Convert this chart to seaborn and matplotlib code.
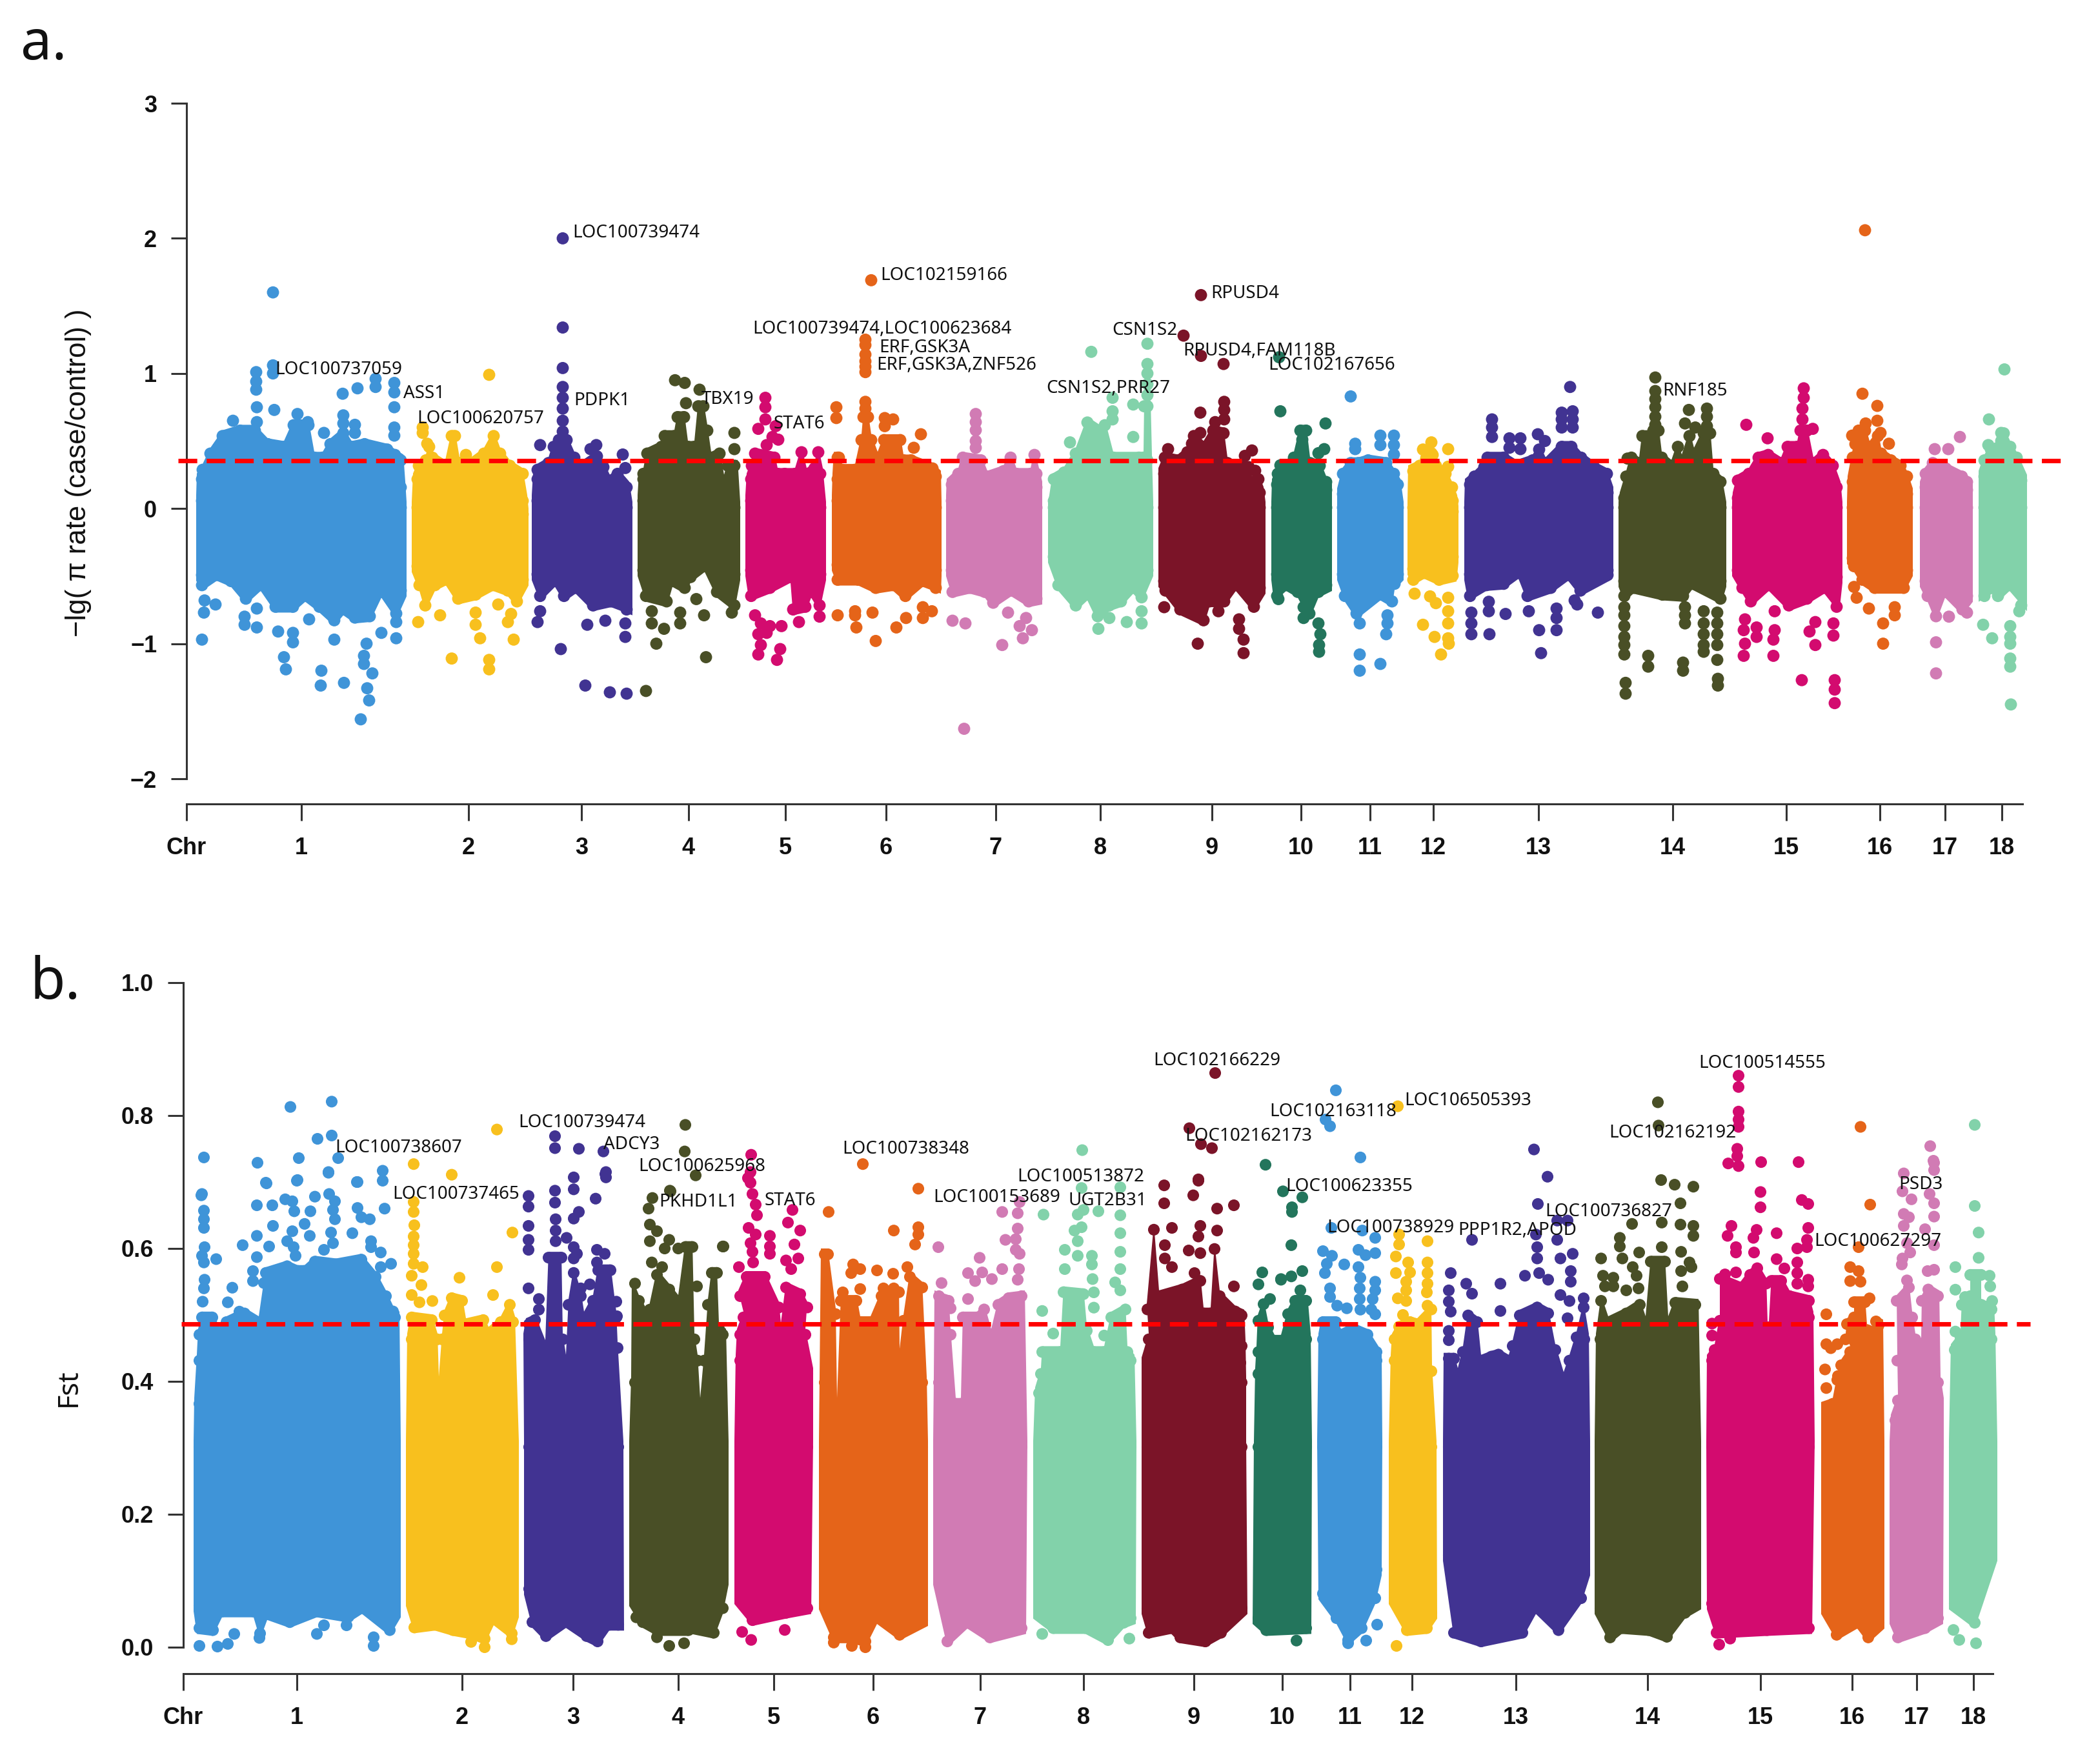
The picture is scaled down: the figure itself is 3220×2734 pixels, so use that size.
import matplotlib
matplotlib.use("Agg")
import matplotlib.pyplot as plt
import pandas as pd
import seaborn as sns

# x values below are running genome positions along the chromosome axis
chrom_names = [str(i) for i in range(1, 19)]
chrom_colors = ["#3F94D8", "#F8C01E", "#413392", "#494F26", "#D30B6F", "#E56419",
                "#D17BB4", "#82D2AA", "#7B1428", "#23755C", "#3F94D8", "#F8C01E",
                "#413392", "#494F26", "#D30B6F", "#E56419", "#D17BB4", "#82D2AA"]

# ---- panel a: -lg(pi rate) ----
a_ticks = [467, 726, 901, 1067, 1217, 1373, 1543, 1705, 1878, 2016, 2123, 2221, 2384, 2592, 2768, 2913, 3014, 3102]
a_threshold = 0.355

a1_top = [(304,.10),(305,.26),(314,.33),(326,.45),(345,.58),(372,.62),(395,.62),(415,.52),(440,.50),(455,.66),(478,.66),(487,.42),(500,.42),(512,.52),(532,.60),(545,.50),(565,.52),(600,.48),(612,.44),(625,.40),(628,.20),(630,.05)]
a1_bot = [(304,-.535),(313,-.61),(336,-.535),(358,-.58),(381,-.71),(404,-.61),(427,-.77),(454,-.77),(473,-.69),(495,-.77),(518,-.87),(532,-.79),(550,-.85),(573,-.84),(591,-.66),(614,-.82),(630,-.65)]
a1_pts = [(423,1.60),(397,1.01),(397,.94),(397,.88),(423,1.06),(423,1.00),(425,.73),(398,.75),(361,.65),(398,.64),(461,.70),(477,.64),(532,.69),(532,.63),(550,.62),(550,.56),(502,.56),(531,.85),(554,.89),(582,.96),(582,.90),(611,.93),(611,.86),(611,.75),(611,.60),(611,.54),
          (317,-.68),(334,-.71),(316,-.77),(313,-.97),(379,-.80),(379,-.86),(398,-.88),(398,-.74),(431,-.91),(454,-.92),(454,-.99),(479,-.82),(518,-.97),(440,-1.10),(443,-1.19),(498,-1.20),(568,-1.0),(564,-1.09),(564,-1.15),(577,-1.22),(591,-.92),(614,-.96),(614,-.84),(497,-1.31),(533,-1.29),(569,-1.33),(572,-1.42),(559,-1.56)]
a2_top = [(638,.05),(640,.26),(649,.36),(660,.40),(665,.50),(670,.42),(690,.36),(700,.58),(705,.58),(712,.38),(722,.44),(730,.38),(750,.45),(765,.58),(775,.45),(790,.36),(810,.30),(817,.10),(819,.0)]
a2_bot = [(638,-.47),(650,-.61),(659,-.76),(674,-.61),(691,-.57),(710,-.71),(737,-.68),(764,-.61),(787,-.65),(801,-.73),(819,-.57)]
a2_pts = [(758,.99),(655,.60),(655,.56),(662,.48),(682,-.79),(648,-.84),(737,-.77),(737,-.86),(772,-.71),(792,-.78),(787,-.84),(744,-.96),(796,-.97),(700,-1.11),(758,-1.12),(758,-1.19)]
a3_top = [(824,.10),(826,.26),(832,.33),(850,.38),(858,.50),(866,.55),(878,.55),(890,.42),(900,.35),(925,.43),(935,.35),(945,.25),(957,.30),(975,.20),(980,.05)]
a3_bot = [(824,-.53),(837,-.69),(860,-.58),(874,-.69),(892,-.63),(919,-.76),(947,-.73),(980,-.79)]
a3_pts = [(872,.90),(872,.82),(872,.74),(872,.65),(872,.57),(872,1.04),(872,1.34),(872,2.0),(837,.47),(915,.44),(924,.47),(965,.40),(969,.30),
          (837,-.76),(833,-.84),(910,-.86),(938,-.83),(969,-.85),(969,-.95),(869,-1.04),(907,-1.31),(945,-1.36),(971,-1.37)]
a4_top = [(988,.10),(990,.26),(997,.30),(1003,.45),(1025,.50),(1030,.58),(1045,.58),(1050,.72),(1060,.72),(1066,.50),(1076,.50),(1082,.80),(1090,.80),(1096,.62),(1102,.42),(1115,.45),(1122,.25),(1128,.36),(1143,.36),(1147,.05)]
a4_bot = [(988,-.50),(1001,-.69),(1033,-.73),(1042,-.58),(1061,-.63),(1070,-.55),(1092,-.47),(1111,-.66),(1138,-.76),(1147,-.53)]
a4_pts = [(1046,.95),(1061,.93),(1084,.88),(1063,.78),(1138,.56),(1138,.44),(1010,-.76),(1010,-.85),(1054,-.77),(1054,-.85),(1079,-.67),(1091,-.79),(1029,-.89),(1017,-1.0),(1094,-1.10),(1134,-.77),(1001,-1.35)]
a5_top = [(1155,.10),(1157,.26),(1165,.36),(1170,.45),(1200,.42),(1205,.30),(1216,.30),(1232,.30),(1242,.46),(1250,.30),(1262,.34),(1268,.46),(1275,.30),(1280,.05)]
a5_bot = [(1155,-.50),(1161,-.69),(1193,-.63),(1225,-.55),(1229,-.79),(1248,-.77),(1257,-.66),(1270,-.76),(1280,-.53)]
a5_pts = [(1186,.82),(1186,.75),(1186,.66),(1175,.59),(1197,.53),(1206,.51),(1202,.61),(1188,.47),(1170,-.79),(1179,-.85),(1193,-.87),(1175,-.93),(1188,-.92),(1179,-1.01),(1175,-1.08),(1211,-.87),(1209,-1.04),(1204,-1.12),(1238,-.84),(1270,-.80)]
a6_top = [(1289,.10),(1290,.26),(1292,.42),(1300,.42),(1305,.33),(1325,.33),(1335,.55),(1338,.72),(1345,.72),(1350,.55),(1360,.42),(1370,.55),(1395,.55),(1400,.40),(1412,.40),(1445,.34),(1458,.28),(1459,.05)]
a6_bot = [(1289,-.46),(1298,-.57),(1330,-.57),(1357,-.63),(1384,-.61),(1403,-.69),(1430,-.58),(1458,-.63),(1459,-.50)]
a6_pts = [(1341,.79),(1341,.74),(1296,.75),(1296,.67),(1371,.67),(1384,.66),(1371,.61),(1427,.55),(1416,.45),(1341,1.25),(1341,1.21),(1341,1.14),(1341,1.09),(1341,1.05),(1341,1.01),(1350,1.69),
          (1298,-.79),(1325,-.76),(1325,-.79),(1352,-.77),(1404,-.81),(1430,-.81),(1430,-.73),(1444,-.76),(1327,-.88),(1389,-.88),(1357,-.98)]
a7_top = [(1466,.10),(1467,.22),(1485,.30),(1492,.42),(1520,.40),(1530,.28),(1555,.32),(1566,.42),(1575,.30),(1597,.30),(1603,.44),(1610,.30),(1615,.20),(1615,.05)]
a7_bot = [(1466,-.50),(1476,-.66),(1503,-.63),(1526,-.66),(1539,-.74),(1567,-.65),(1594,-.73),(1615,-.71)]
a7_pts = [(1512,.70),(1512,.64),(1512,.58),(1512,.50),(1512,.45),(1476,-.83),(1496,-.85),(1562,-.77),(1590,-.81),(1580,-.87),(1599,-.90),(1585,-.96),(1553,-1.01),(1494,-1.63)]
a8_top = [(1624,.05),(1626,.10),(1631,.26),(1649,.31),(1667,.45),(1685,.68),(1704,.62),(1712,.66),(1725,.42),(1765,.42),(1772,.42),(1773,.80),(1783,.80),(1785,.40),(1787,.05)]
a8_bot = [(1624,-.40),(1640,-.61),(1667,-.76),(1685,-.68),(1701,-.84),(1719,-.76),(1737,-.73),(1756,-.63),(1769,-.70),(1787,-.50)]
a8_pts = [(1778,1.22),(1778,1.07),(1778,1.00),(1778,.92),(1778,.84),(1691,1.16),(1724,.82),(1724,.72),(1724,.66),(1756,.77),(1756,.53),(1658,.49),(1702,-.89),(1746,-.84),(1769,-.85),(1769,-.76),(1719,-.81)]
a9_top = [(1795,.05),(1795,.30),(1805,.42),(1825,.40),(1840,.46),(1850,.58),(1865,.50),(1880,.62),(1896,.60),(1902,.38),(1920,.35),(1935,.35),(1940,.24),(1950,.26),(1958,.16),(1961,.05)]
a9_bot = [(1795,-.58),(1806,-.65),(1829,-.79),(1865,-.87),(1874,-.73),(1897,-.73),(1915,-.61),(1943,-.77),(1961,-.63)]
a9_pts = [(1897,.79),(1897,.73),(1897,.66),(1883,.64),(1860,.71),(1860,.56),(1847,.48),(1810,.44),(1940,.43),(1929,.39),(1945,.28),(1861,1.58),(1834,1.28),(1861,1.13),(1896,1.07),(1804,-.73),(1856,-1.0),(1888,-.76),(1920,-.82),(1920,-.89),(1927,-.97),(1927,-1.07)]
a10_top = [(1970,.05),(1971,.22),(1980,.30),(1990,.34),(2005,.42),(2015,.62),(2024,.62),(2030,.38),(2045,.36),(2055,.24),(2064,.18),(2064,.05)]
a10_bot = [(1970,-.53),(1974,-.69),(1993,-.61),(2011,-.66),(2029,-.82),(2043,-.66),(2064,-.61)]
a10_pts = [(2018,.51),(2018,.44),(2052,.44),(2043,.41),(1984,.72),(2054,.63),(1984,.32),(1982,1.12),(1981,-.67),(2020,-.73),(2020,-.81),(2043,-.85),(2046,-.93),(2044,-1.01),(2044,-1.06)]
a11_top = [(2072,.05),(2072,.15),(2080,.30),(2093,.38),(2105,.38),(2120,.40),(2148,.38),(2160,.30),(2170,.22),(2175,.05)]
a11_bot = [(2072,-.53),(2084,-.69),(2102,-.82),(2139,-.68),(2157,-.73),(2161,-.60),(2175,-.53)]
a11_pts = [(2100,.48),(2100,.44),(2139,.54),(2139,.47),(2160,.54),(2160,.47),(2160,.40),(2093,.83),(2107,-.85),(2150,-.79),(2150,-.85),(2148,-.93),(2107,-1.08),(2107,-1.2),(2139,-1.15)]
a12_top = [(2181,.05),(2182,.32),(2200,.36),(2205,.48),(2220,.44),(2225,.36),(2240,.30),(2250,.20),(2258,.10),(2260,.02)]
a12_bot = [(2181,-.49),(2189,-.57),(2207,-.52),(2230,-.57),(2257,-.54),(2260,-.40)]
a12_pts = [(2218,.49),(2218,.41),(2244,.44),(2244,.31),(2192,-.63),(2216,-.65),(2225,-.70),(2244,-.66),(2244,-.76),(2244,-.85),(2205,-.86),(2223,-.95),(2245,-1.0),(2244,-.96),(2233,-1.08)]
a13_top = [(2269,.05),(2270,.22),(2285,.28),(2300,.35),(2305,.42),(2330,.42),(2350,.36),(2375,.40),(2385,.48),(2395,.38),(2420,.50),(2435,.50),(2450,.42),(2470,.35),(2490,.30),(2500,.16),(2500,.05)]
a13_bot = [(2269,-.53),(2275,-.69),(2303,-.61),(2330,-.60),(2353,-.52),(2367,-.69),(2403,-.63),(2430,-.535),(2449,-.65),(2494,-.535),(2500,-.50)]
a13_pts = [(2312,.66),(2312,.60),(2312,.53),(2339,.52),(2356,.52),(2339,.45),(2356,.44),(2383,.55),(2394,.50),(2420,.71),(2420,.66),(2420,.60),(2437,.72),(2437,.66),(2437,.60),(2433,.90),
           (2280,-.77),(2280,-.85),(2280,-.93),(2307,-.69),(2307,-.76),(2333,-.78),(2369,-.76),(2412,-.74),(2412,-.81),(2440,-.68),(2444,-.71),(2476,-.77),(2308,-.93),(2385,-.90),(2412,-.90),(2388,-1.07)]
a14_top = [(2508,.05),(2510,.12),(2520,.28),(2528,.42),(2540,.38),(2545,.58),(2560,.58),(2562,.62),(2570,.62),(2575,.42),(2590,.36),(2600,.50),(2606,.40),(2618,.58),(2625,.45),(2640,.60),(2650,.60),(2655,.30),(2668,.24),(2675,.05)]
a14_bot = [(2508,-.58),(2517,-.69),(2531,-.63),(2576,-.68),(2608,-.69),(2622,-.60),(2667,-.71),(2675,-.58)]
a14_pts = [(2565,.97),(2565,.87),(2565,.81),(2565,.75),(2565,.68),(2565,.62),(2617,.73),(2611,.63),(2627,.60),(2645,.74),(2645,.68),(2645,.61),(2522,.37),
           (2517,-.73),(2517,-.79),(2517,-.87),(2517,-.95),(2517,-1.01),(2517,-1.08),(2554,-1.09),(2554,-1.17),(2611,-.73),(2611,-.79),(2611,-.85),(2608,-1.14),(2608,-1.2),(2640,-.76),(2640,-.85),(2640,-.93),(2640,-1.01),(2640,-1.06),(2661,-.77),(2661,-.85),(2661,-.93),(2661,-1.01),(2661,-1.12),(2662,-1.26),(2662,-1.31),(2519,-1.29),(2519,-1.37)]
a15_top = [(2684,.05),(2685,.12),(2692,.25),(2710,.30),(2725,.42),(2740,.44),(2760,.38),(2770,.50),(2785,.50),(2790,.62),(2800,.62),(2810,.38),(2825,.44),(2840,.36),(2852,.20),(2855,.05)]
a15_bot = [(2684,-.50),(2700,-.63),(2713,-.73),(2741,-.61),(2772,-.76),(2800,-.71),(2827,-.63),(2850,-.77),(2855,-.55)]
a15_pts = [(2795,.89),(2795,.82),(2793,.74),(2793,.66),(2809,.59),(2706,.62),(2739,.52),(2704,-.82),(2702,-.90),(2704,-1.0),(2702,-1.09),(2722,-.88),(2722,-.95),(2750,-.76),(2750,-.90),(2748,-.97),(2748,-1.09),(2813,-.84),(2804,-.91),(2813,-1.01),(2841,-.85),(2841,-.94),(2792,-1.27),(2843,-1.27),(2843,-1.34),(2843,-1.44)]
a16_top = [(2862,.05),(2863,.24),(2870,.42),(2875,.52),(2880,.62),(2890,.62),(2897,.50),(2910,.58),(2915,.45),(2930,.40),(2945,.36),(2955,.28),(2964,.15),(2964,.05)]
a16_bot = [(2862,-.41),(2873,-.47),(2886,-.57),(2905,-.63),(2950,-.63),(2964,-.50)]
a16_pts = [(2890,2.06),(2886,.85),(2909,.76),(2870,.54),(2909,.65),(2914,.56),(2891,.63),(2927,.48),(2873,-.58),(2877,-.66),(2896,-.74),(2936,-.73),(2936,-.79),(2918,-.85),(2918,-1.0)]
a17_top = [(2975,.05),(2975,.20),(2982,.30),(2995,.38),(3015,.34),(3040,.28),(3050,.24),(3057,.18),(3057,.05)]
a17_bot = [(2975,-.58),(2987,-.69),(3000,-.84),(3014,-.66),(3041,-.79),(3057,-.69)]
a17_pts = [(2998,.44),(3019,.44),(3037,.53),(3020,-.80),(3048,-.77),(3000,-.99),(3000,-1.22)]
a18_top = [(3066,.05),(3066,.28),(3075,.40),(3085,.48),(3100,.50),(3105,.60),(3115,.50),(3125,.42),(3141,.25),(3141,.05)]
a18_bot = [(3066,-.69),(3087,-.63),(3096,-.69),(3114,-.61),(3141,-.76)]
a18_pts = [(3106,1.03),(3082,.66),(3081,.47),(3101,.56),(3101,.50),(3073,-.86),(3087,-.96),(3115,-.87),(3115,-.95),(3115,-1.0),(3115,-1.11),(3115,-1.17),(3116,-1.45),(3129,-.76)]

a_label_names = ["LOC100737059", "ASS1", "LOC100620757", "LOC100739474", "PDPK1", "TBX19", "STAT6", "LOC102159166",
                 "LOC100739474,LOC100623684", "ERF,GSK3A", "ERF,GSK3A,ZNF526", "RPUSD4", "CSN1S2", "RPUSD4,FAM118B",
                 "LOC102167656", "CSN1S2,PRR27", "RNF185"]
a_label_pos = [426, 625, 646, 887, 889, 1087, 1199, 1364, 1166, 1362, 1358, 1876, 1723, 1833, 1965, 1621, 2576]
a_label_val = [1.03, .85, .665, 2.04, .80, .81, .625, 1.725, 1.33, 1.19, 1.06, 1.59, 1.32, 1.165, 1.06, .89, .87]

# ---- panel b: Fst ----
b_ticks = [460, 716, 888, 1051, 1199, 1353, 1519, 1679, 1850, 1987, 2092, 2188, 2349, 2553, 2728, 2870, 2970, 3058]
b_threshold = 0.486

b1_top = [(300,.31),(301,.375),(305,.44),(307,.479),(313,.505),(329,.505),(340,.482),(351,.498),(379,.511),(401,.498),(412,.572),(445,.582),(461,.575),(472,.575),(488,.589),(521,.585),(560,.592),(582,.566),(598,.537),(609,.514),(619,.505),(621,.31)]
b1_bot = [(300,.054),(305,.02),(330,.017),(344,.045),(393,.045),(403,.012),(414,.041),(449,.029),(491,.045),(540,.037),(561,.05),(604,.017),(621,.045)]
b1_pts = [(316,.737),(450,.813),(514,.821),(492,.765),(514,.77),(463,.736),(524,.736),(509,.714),(460,.702),(399,.729),(413,.698),(593,.717),(593,.702),(554,.70),(312,.68),
          (313,.682),(316,.657),(316,.644),(316,.631),(317,.602),(313,.589),(316,.579),(335,.584),(317,.553),(316,.54),(314,.52),(398,.665),(422,.665),(412,.699),(461,.703),(509,.715),(553,.70),
          (442,.674),(453,.671),(456,.656),(488,.678),(481,.656),(510,.682),(519,.671),(516,.658),(554,.661),(560,.647),(573,.644),(596,.66),(423,.634),(472,.637),(480,.619),(519,.644),(513,.624),(516,.608),(453,.626),(445,.611),(546,.623),(575,.611),(575,.602),(398,.619),(502,.598),(590,.594),(606,.577),(376,.605),(398,.587),(417,.603),(392,.566),(392,.551),(360,.541),(353,.519),(409,.548),(371,.505),(455,.602),(458,.589),(590,.572),
          (309,.002),(337,.001),(353,.005),(363,.02),(402,.014),(491,.02),(502,.033),(579,.015),(579,.002),(537,.033)]
b2_top = [(629,.31),(631,.472),(637,.505),(669,.501),(678,.472),(680,.407),(685,.472),(689,.508),(700,.534),(716,.53),(722,.495),(749,.501),(757,.482),(776,.498),(790,.524),(798,.498),(804,.31)]
b2_bot = [(629,.062),(642,.021),(674,.025),(702,.017),(730,.012),(751,.004),(765,.033),(793,.012),(804,.045)]
b2_pts = [(641,.727),(700,.711),(770,.779),(641,.67),(641,.655),(642,.635),(641,.618),(641,.605),(641,.592),(641,.577),(655,.572),(638,.559),(653,.545),(638,.53),(650,.519),(670,.521),(794,.624),(770,.572),(712,.556),(764,.53),(730,.008),(751,0),(793,.012)]
b3_top = [(812,.31),(811,.472),(815,.495),(829,.501),(845,.462),(850,.595),(870,.595),(872,.472),(877,.44),(881,.524),(889,.572),(900,.537),(905,.505),(919,.53),(927,.576),(946,.576),(955,.505),(957,.459),(966,.31)]
b3_bot = [(812,.079),(825,.029),(846,.008),(877,.029),(909,.008),(926,0),(944,.025),(967,.025)]
b3_pts = [(860,.769),(860,.751),(897,.75),(935,.746),(939,.715),(939,.707),(819,.679),(819,.663),(819,.634),(819,.613),(819,.598),(819,.54),(835,.524),(835,.508),(860,.687),(860,.669),(889,.707),(889,.689),(938,.712),(923,.675),(897,.655),(889,.645),(861,.644),(861,.627),(861,.611),(878,.616),(889,.602),(894,.592),(889,.585),(925,.598),(937,.592),(925,.579),(914,.546),(900,.54),(955,.52),(956,.498)]
b4_top = [(975,.31),(978,.407),(979,.556),(990,.53),(1004,.505),(1018,.569),(1037,.547),(1051,.53),(1062,.611),(1073,.611),(1076,.472),(1081,.44),(1085,.375),(1091,.44),(1097,.524),(1103,.572),(1111,.572),(1114,.488),(1125,.479),(1129,.31)]
b4_bot = [(975,.062),(996,.029),(1018,.017),(1067,.017),(1071,.02),(1106,.013),(1120,.05),(1129,.094)]
b4_pts = [(1062,.786),(1061,.746),(1078,.71),(1120,.603),(1039,.686),(1007,.636),(1018,.626),(1005,.66),(1011,.676),(1038,.687),(1007,.611),(1037,.613),(1030,.6),(1051,.6),(1010,.579),(1026,.572),(1121,.603),(1080,.543),(1007,.508),(1018,.015),(1037,.002),(1060,.006),(986,.045)]
b5_top = [(1138,.31),(1140,.44),(1142,.479),(1152,.505),(1144,.537),(1157,.566),(1185,.566),(1207,.52),(1210,.488),(1218,.55),(1240,.54),(1251,.52),(1248,.479),(1260,.42),(1260,.31)]
b5_bot = [(1138,.065),(1166,.032),(1218,.043),(1257,.05)]
b5_pts = [(1164,.741),(1159,.706),(1163,.715),(1163,.699),(1166,.682),(1171,.666),(1173,.65),(1160,.631),(1171,.621),(1163,.608),(1166,.595),(1167,.579),(1145,.572),(1193,.619),(1193,.603),(1193,.592),(1228,.658),(1221,.639),(1240,.627),(1231,.606),(1237,.585),(1218,.582),(1226,.569),(1150,.023),(1164,.011),(1216,.026)]
b6_top = [(1269,.31),(1270,.407),(1272,.60),(1283,.60),(1295,.51),(1297,.375),(1303,.53),(1327,.53),(1333,.498),(1349,.498),(1366,.537),(1393,.543),(1394,.449),(1400,.50),(1410,.566),(1429,.55),(1436,.407),(1438,.31)]
b6_bot = [(1269,.057),(1292,.006),(1320,.006),(1341,0),(1359,.035),(1394,.01),(1438,.032)]
b6_pts = [(1337,.727),(1284,.655),(1385,.627),(1423,.69),(1423,.632),(1423,.621),(1418,.606),(1322,.576),(1333,.569),(1319,.563),(1359,.567),(1384,.562),(1406,.572),(1333,.539),(1306,.534),(1369,.54),(1385,.54),(1292,.007),(1320,.002),(1341,0)]
b7_top = [(1446,.31),(1447,.407),(1448,.537),(1470,.53),(1473,.479),(1481,.375),(1489,.375),(1492,.505),(1514,.505),(1525,.517),(1536,.479),(1547,.524),(1563,.534),(1588,.537),(1592,.31)]
b7_bot = [(1446,.094),(1468,0),(1499,.028),(1534,.006),(1590,.02)]
b7_pts = [(1454,.602),(1459,.548),(1473,.51),(1518,.586),(1500,.563),(1511,.551),(1522,.564),(1537,.554),(1553,.569),(1500,.524),(1580,.67),(1577,.653),(1577,.63),(1574,.614),(1558,.613),(1574,.598),(1580,.592),(1553,.655),(1579,.569),(1577,.553)]
b8_top = [(1601,.31),(1604,.391),(1613,.42),(1615,.453),(1643,.453),(1648,.543),(1679,.54),(1684,.485),(1695,.453),(1711,.453),(1722,.505),(1744,.517),(1747,.453),(1758,.44),(1761,.31)]
b8_bot = [(1601,.043),(1632,.02),(1682,.02),(1717,.002),(1741,.028),(1760,.035)]
b8_pts = [(1677,.748),(1617,.651),(1615,.506),(1632,.472),(1711,.469),(1676,.691),(1736,.692),(1670,.651),(1679,.658),(1702,.656),(1736,.65),(1665,.627),(1676,.632),(1736,.623),(1736,.595),(1736,.569),(1670,.611),(1650,.598),(1670,.589),(1692,.589),(1692,.576),(1650,.569),(1693,.554),(1728,.549),(1736,.537),(1695,.534),(1695,.511),(1615,.02),(1750,.013)]
b9_top = [(1769,.31),(1769,.436),(1780,.472),(1777,.517),(1788,.637),(1796,.537),(1832,.547),(1860,.56),(1865,.511),(1876,.511),(1882,.608),(1890,.537),(1914,.514),(1928,.508),(1930,.462),(1931,.407),(1931,.31)]
b9_bot = [(1769,.05),(1780,.013),(1815,.02),(1829,.006),(1868,0),(1892,.013),(1933,.05)]
b9_pts = [(1883,.864),(1843,.781),(1861,.757),(1878,.751),(1857,.702),(1804,.695),(1804,.668),(1857,.704),(1849,.68),(1886,.66),(1912,.665),(1816,.631),(1860,.634),(1857,.618),(1886,.627),(1842,.597),(1860,.593),(1805,.605),(1805,.585),(1816,.572),(1851,.563),(1912,.543),(1922,.428)]
b10_top = [(1943,.31),(1945,.42),(1947,.453),(1949,.50),(1958,.525),(1965,.49),(1975,.47),(1985,.47),(1996,.51),(2007,.53),(2026,.53),(2031,.472),(2033,.31)]
b10_bot = [(1941,.035),(1962,.017),(2032,.02)]
b10_pts = [(1961,.726),(1988,.686),(2018,.677),(2002,.662),(2002,.655),(1956,.564),(1950,.546),(1985,.553),(1985,.554),(2001,.558),(2018,.566),(2015,.537),(1968,.524),(2001,.605),(2009,.01)]
b11_top = [(2041,.31),(2043,.472),(2048,.498),(2070,.498),(2078,.479),(2097,.488),(2119,.479),(2136,.453),(2141,.44),(2142,.31)]
b11_bot = [(2043,.072),(2071,.035),(2089,.002),(2110,.02),(2131,.065),(2141,.108)]
b11_pts = [(2070,.838),(2054,.794),(2061,.784),(2108,.737),(2050,.596),(2064,.589),(2083,.576),(2056,.577),(2053,.563),(2061,.54),(2061,.527),(2072,.514),(2087,.51),(2105,.598),(2116,.59),(2131,.593),(2105,.572),(2108,.556),(2107,.54),(2107,.524),(2108,.508),(2131,.55),(2131,.537),(2127,.524),(2125,.508),(2131,.501),(2063,.631),(2111,.627),(2131,.616),(2117,.01),(2089,.006),(2134,.034)]
b12_top = [(2152,.31),(2155,.44),(2157,.472),(2168,.491),(2185,.498),(2196,.495),(2218,.517),(2219,.424),(2226,.31)]
b12_bot = [(2152,.065),(2180,.017),(2211,.02),(2227,.043)]
b12_pts = [(2166,.814),(2168,.621),(2168,.606),(2212,.611),(2163,.588),(2182,.579),(2185,.564),(2163,.563),(2179,.55),(2179,.537),(2166,.525),(2179,.521),(2212,.579),(2212,.563),(2212,.547),(2211,.534),(2212,.514),(2174,.5),(2164,.002)]
b13_top = [(2236,.31),(2237,.443),(2253,.443),(2259,.42),(2267,.453),(2275,.508),(2289,.498),(2295,.44),(2311,.446),(2322,.449),(2338,.44),(2344,.462),(2355,.508),(2382,.52),(2399,.511),(2410,.456),(2423,.414),(2432,.44),(2443,.475),(2454,.52),(2462,.472),(2464,.31)]
b13_bot = [(2236,.13),(2253,.013),(2295,0),(2359,.013),(2380,.05),(2415,.017),(2450,.065),(2464,.108)]
b13_pts = [(2377,.749),(2398,.708),(2383,.667),(2413,.642),(2429,.642),(2413,.613),(2281,.613),(2380,.621),(2382,.602),(2382,.585),(2385,.563),(2363,.559),(2399,.553),(2437,.592),(2418,.585),(2434,.566),(2434,.55),(2248,.563),(2272,.547),(2281,.532),(2325,.547),(2325,.506),(2245,.537),(2245,.52),(2248,.505),(2418,.53),(2432,.521),(2454,.525),(2245,.476),(2245,.462),(2429,.495)]
b14_top = [(2471,.31),(2473,.472),(2481,.53),(2492,.498),(2520,.511),(2541,.524),(2550,.498),(2558,.589),(2580,.589),(2585,.498),(2596,.527),(2632,.524),(2636,.31)]
b14_bot = [(2471,.05),(2495,.006),(2513,.02),(2555,.017),(2583,.007),(2611,.043),(2636,.057)]
b14_pts = [(2569,.82),(2570,.785),(2574,.703),(2595,.696),(2624,.693),(2604,.668),(2529,.637),(2575,.639),(2604,.636),(2624,.634),(2624,.619),(2510,.616),(2510,.603),(2540,.594),(2575,.602),(2481,.585),(2605,.595),(2618,.579),(2621,.572),(2514,.585),(2530,.572),(2536,.559),(2484,.559),(2500,.556),(2487,.543),(2500,.543),(2520,.537),(2539,.54),(2605,.566),(2607,.543)]
b15_top = [(2644,.31),(2645,.44),(2657,.456),(2665,.50),(2665,.563),(2697,.55),(2712,.569),(2723,.579),(2737,.556),(2739,.49),(2741,.49),(2745,.56),(2760,.56),(2773,.537),(2803,.53),(2810,.505),(2812,.31)]
b15_bot = [(2645,.057),(2660,.013),(2738,.017),(2808,.02)]
b15_pts = [(2694,.86),(2694,.843),(2694,.806),(2694,.794),(2694,.783),(2692,.75),(2692,.739),(2678,.728),(2694,.724),(2729,.73),(2787,.73),(2728,.685),(2728,.662),(2792,.673),(2802,.667),(2683,.634),(2677,.619),(2690,.602),(2690,.594),(2722,.628),(2717,.616),(2753,.623),(2802,.631),(2800,.613),(2785,.6),(2800,.602),(2718,.594),(2753,.584),(2765,.57),(2785,.579),(2785,.563),(2785,.547),(2802,.553),(2802,.543),(2673,.561),(2690,.564),(2653,.487),(2653,.469),(2664,.004),(2681,.013)]
b16_top = [(2822,.31),(2822,.369),(2840,.375),(2847,.411),(2853,.433),(2867,.453),(2860,.472),(2862,.495),(2873,.505),(2873,.528),(2890,.528),(2893,.486),(2903,.483),(2907,.499),(2918,.493),(2920,.31)]
b16_bot = [(2822,.05),(2846,.01),(2878,.028),(2895,.006),(2920,.028)]
b16_pts = [(2883,.783),(2898,.666),(2880,.602),(2867,.572),(2880,.566),(2867,.551),(2883,.55),(2897,.525),(2830,.501),(2830,.456),(2837,.45),(2847,.456),(2828,.418),(2848,.408),(2830,.39)]
b17_top = [(2928,.31),(2930,.35),(2941,.38),(2940,.44),(2939,.53),(2958,.55),(2963,.505),(2968,.472),(2977,.465),(2978,.53),(2988,.547),(3005,.537),(3007,.407),(3012,.375),(3012,.31)]
b17_bot = [(2928,.035),(2941,.006),(2983,.02),(3011,.035)]
b17_pts = [(2991,.754),(2996,.732),(2950,.713),(2997,.729),(2997,.718),(2948,.686),(2962,.674),(2990,.682),(2997,.668),(2950,.652),(2958,.647),(2997,.648),(2950,.634),(2983,.629),(2955,.608),(2960,.594),(2948,.585),(2947,.576),(2997,.605),(2987,.566),(2997,.568),(2955,.552)]
b18_top = [(3020,.31),(3023,.456),(3038,.475),(3040,.524),(3053,.537),(3053,.569),(3070,.569),(3070,.524),(3090,.517),(3092,.472),(3095,.31)]
b18_bot = [(3020,.057),(3060,.028),(3095,.13)]
b18_pts = [(3060,.786),(3060,.664),(3066,.624),(3066,.586),(3030,.572),(3030,.538),(3083,.559),(3084,.543),(3087,.521),(3030,.475),(3045,.527),(3027,.026),(3036,.011),(3062,.006)]

b_label_names = ["LOC100738607", "LOC100737465", "LOC100739474", "ADCY3", "LOC100625968", "PKHD1L1", "STAT6", "LOC100738348",
                 "LOC100153689", "LOC100513872", "UGT2B31", "LOC102166229", "LOC102163118", "LOC102162173", "LOC100623355",
                 "LOC100738929", "LOC106505393", "PPP1R2,APOD", "LOC100736827", "LOC102162192", "LOC100514555", "LOC100627297", "PSD3"]
b_label_pos = [519, 608, 803, 935, 989, 1021, 1185, 1305, 1446, 1576, 1655, 1787, 1967, 1836, 1992, 2056, 2176, 2259, 2394, 2493, 2632, 2811, 2942]
b_label_val = [.751, .682, .789, .756, .723, .67, .672, .75, .677, .708, .672, .883, .806, .769, .693, .631, .822, .627, .655, .774, .879, .611, .696]

a_tops = [a1_top, a2_top, a3_top, a4_top, a5_top, a6_top, a7_top, a8_top, a9_top, a10_top, a11_top, a12_top, a13_top, a14_top, a15_top, a16_top, a17_top, a18_top]
a_bots = [a1_bot, a2_bot, a3_bot, a4_bot, a5_bot, a6_bot, a7_bot, a8_bot, a9_bot, a10_bot, a11_bot, a12_bot, a13_bot, a14_bot, a15_bot, a16_bot, a17_bot, a18_bot]
a_pts = [a1_pts, a2_pts, a3_pts, a4_pts, a5_pts, a6_pts, a7_pts, a8_pts, a9_pts, a10_pts, a11_pts, a12_pts, a13_pts, a14_pts, a15_pts, a16_pts, a17_pts, a18_pts]
b_tops = [b1_top, b2_top, b3_top, b4_top, b5_top, b6_top, b7_top, b8_top, b9_top, b10_top, b11_top, b12_top, b13_top, b14_top, b15_top, b16_top, b17_top, b18_top]
b_bots = [b1_bot, b2_bot, b3_bot, b4_bot, b5_bot, b6_bot, b7_bot, b8_bot, b9_bot, b10_bot, b11_bot, b12_bot, b13_bot, b14_bot, b15_bot, b16_bot, b17_bot, b18_bot]
b_pts = [b1_pts, b2_pts, b3_pts, b4_pts, b5_pts, b6_pts, b7_pts, b8_pts, b9_pts, b10_pts, b11_pts, b12_pts, b13_pts, b14_pts, b15_pts, b16_pts, b17_pts, b18_pts]

sns.set_theme(style="white")
plt.rcParams["font.family"] = ["Liberation Sans", "DejaVu Sans"]

W, H = 3220, 2734
palette = dict(zip(chrom_names, chrom_colors))
DOT_RADIUS = 9  # position units, same as the dot size on screen


def draw_panel(box, ylim, tops, bots, pts, marker_s, threshold, thr_span, ticks, axis_span, offset, yticks, ylabels,
               label_names, label_pos, label_val):
    left, right, top, bottom = box
    ax = fig.add_axes([left / W, 1 - bottom / H, (right - left) / W, (bottom - top) / H])
    ax.set_facecolor("none")
    r_val = DOT_RADIUS * (ylim[1] - ylim[0]) / (bottom - top)

    rows = []
    for i in range(18):
        # the dense part of each chromosome is filled, its rim gets dots so it stays bumpy
        outline = tops[i] + bots[i][::-1]
        ax.fill([p[0] for p in outline], [p[1] for p in outline], color=chrom_colors[i], lw=0, zorder=1)
        xmin = min(p[0] for p in outline) + DOT_RADIUS
        xmax = max(p[0] for p in outline) - DOT_RADIUS
        for x, y in tops[i]:
            rows.append((chrom_names[i], min(max(x, xmin), xmax), y - r_val))
        for x, y in bots[i]:
            rows.append((chrom_names[i], min(max(x, xmin), xmax), y + r_val))
        rows += [(chrom_names[i], x, y) for x, y in pts[i]]

    df = pd.DataFrame(rows, columns=["chr", "pos", "val"])
    sns.scatterplot(data=df, x="pos", y="val", hue="chr", palette=palette, s=marker_s, linewidth=0,
                    legend=False, clip_on=False, zorder=2, ax=ax)

    ax.plot(thr_span, [threshold, threshold], color="#FF0000", lw=5, dashes=(4.2, 2.1), zorder=3)

    for name, x, y in zip(label_names, label_pos, label_val):
        ax.text(x, y, name, fontsize=20, family="Noto Sans", color="#111111", ha="left", va="center", zorder=4)

    ax.set_xlim(left, right)
    ax.set_ylim(*ylim)
    ax.set_xlabel("")
    ax.set_ylabel("")
    for side in ("top", "right"):
        ax.spines[side].set_visible(False)
    ax.spines["left"].set_position(("data", axis_span[0]))
    ax.spines["bottom"].set_position(("outward", offset))
    ax.spines["bottom"].set_bounds(*axis_span)
    for side in ("left", "bottom"):
        ax.spines[side].set_color("#333333")
        ax.spines[side].set_linewidth(2.2)

    ax.set_xticks([axis_span[0]] + ticks)
    ax.set_xticklabels(["Chr"] + chrom_names, fontweight="bold", fontsize=26)
    ax.set_yticks(yticks)
    ax.set_yticklabels(ylabels, fontweight="bold", fontsize=26)
    ax.tick_params(axis="x", length=18.5, width=2.2, color="#333333", pad=18, labelcolor="#111111", bottom=True)
    ax.tick_params(axis="y", length=17, width=2.2, color="#333333", pad=16, labelcolor="#111111", left=True)
    return ax


fig = plt.figure(figsize=(W / 100, H / 100), dpi=100, facecolor="white")

draw_panel((250, 3220, 160, 1207), (-2, 3), a_tops, a_bots, a_pts, 185, a_threshold, [276, 3194], a_ticks, (289, 3134), 28,
           [-2, -1, 0, 1, 2, 3], ["\u22122", "\u22121", "0", "1", "2", "3"], a_label_names, a_label_pos, a_label_val)
draw_panel((250, 3220, 1523, 2553), (0, 1), b_tops, b_bots, b_pts, 170, b_threshold, [281, 3146], b_ticks, (284, 3088), 29.5,
           [0, .2, .4, .6, .8, 1.0], ["0.0", "0.2", "0.4", "0.6", "0.8", "1.0"], b_label_names, b_label_pos, b_label_val)

fig.text(122 / W, 1 - 733 / H, "\u2212lg( \u03c0 rate (case/control) )", rotation=90, fontsize=31.5, ha="center", va="center", color="#111111")
fig.text(107 / W, 1 - 2151 / H, "Fst", rotation=90, fontsize=31, family="Noto Sans", ha="center", va="center", color="#111111")
fig.text(32 / W, 1 - 92 / H, "a.", fontsize=62, family="Noto Sans", ha="left", va="baseline", color="#111111")
fig.text(46 / W, 1 - 1548 / H, "b.", fontsize=64, family="Noto Sans", ha="left", va="baseline", color="#111111")

fig.savefig("out.png", dpi=100, facecolor="white")
plt.close(fig)
